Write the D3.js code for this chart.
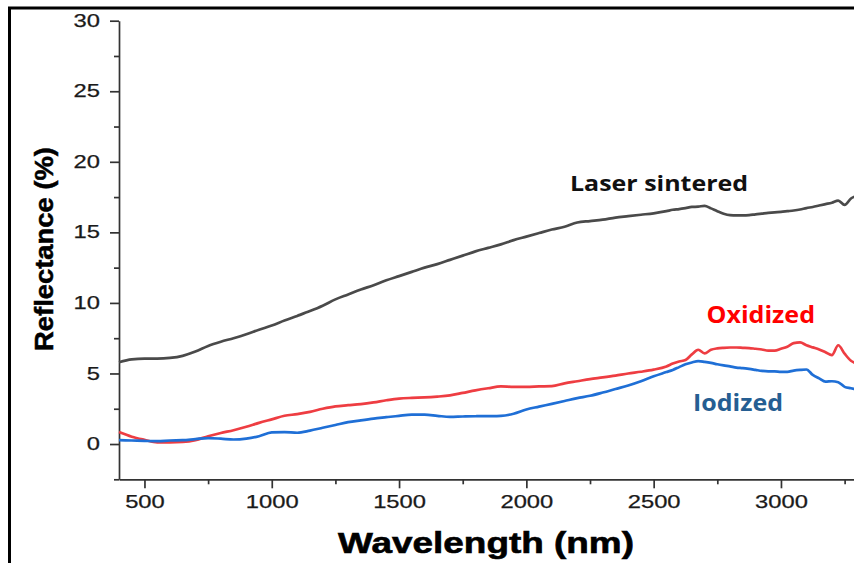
<!DOCTYPE html>
<html>
<head>
<meta charset="utf-8">
<script src="https://cdn.jsdelivr.net/npm/d3@7"></script>
<style>
  html, body { margin: 0; padding: 0; background: #fff; }
  svg { display: block; }
</style>
</head>
<body>
<svg id="chart" width="854" height="563"></svg>
<script>
// Wavelength grid (nm) shared by the three spectra
const wavelengths = [
  400, 450, 500, 550, 600, 650, 700, 750, 800, 850, 900, 950, 1000, 1050, 1100, 1150,
  1200, 1250, 1300, 1350, 1400, 1450, 1500, 1550, 1600, 1650, 1700, 1750, 1800, 1850,
  1900, 1950, 2000, 2050, 2100, 2150, 2200, 2250, 2300, 2350, 2400, 2450, 2500, 2550,
  2575, 2600, 2625, 2650, 2675, 2700, 2725, 2750, 2775, 2800, 2825, 2850, 2875, 2900,
  2925, 2950, 2975, 3000, 3025, 3050, 3075, 3100, 3125, 3150, 3175, 3200, 3225, 3250,
  3275, 3300
];

// Reflectance (%) of the laser sintered surface
const laserSintered = [
  5.8, 6.0, 6.05, 6.05, 6.1, 6.25, 6.55, 6.95, 7.25, 7.5, 7.78, 8.1, 8.4, 8.75, 9.08, 9.42,
  9.8, 10.25, 10.6, 10.95, 11.25, 11.6, 11.9, 12.2, 12.5, 12.75, 13.05, 13.35, 13.65, 13.9,
  14.15, 14.45, 14.7, 14.95, 15.2, 15.4, 15.7, 15.8, 15.9, 16.05, 16.15, 16.25, 16.35, 16.5,
  16.6, 16.65, 16.72, 16.8, 16.82, 16.88, 16.7, 16.5, 16.32, 16.22, 16.2, 16.2, 16.22, 16.28,
  16.33, 16.38, 16.42, 16.45, 16.5, 16.55, 16.62, 16.72, 16.8, 16.9, 17.0, 17.1, 17.25, 16.95,
  17.4, 17.6
];

// Reflectance (%) after oxidation
const oxidized = [
  0.85, 0.52, 0.3, 0.12, 0.12, 0.15, 0.28, 0.55, 0.78, 0.98, 1.22, 1.5, 1.75, 2.0, 2.12, 2.28,
  2.5, 2.67, 2.75, 2.83, 2.95, 3.1, 3.22, 3.27, 3.3, 3.36, 3.45, 3.62, 3.8, 3.95,
  4.08, 4.05, 4.05, 4.08, 4.1, 4.3, 4.45, 4.6, 4.72, 4.85, 5.0, 5.12, 5.27, 5.5,
  5.7, 5.85, 5.95, 6.35, 6.68, 6.42, 6.68, 6.78, 6.82, 6.84, 6.84, 6.82, 6.8, 6.75,
  6.7, 6.62, 6.62, 6.75, 6.9, 7.15, 7.2, 7.0, 6.85, 6.7, 6.5, 6.3, 7.0, 6.4,
  5.9, 5.7
];

// Reflectance (%) after iodization
const iodized = [
  0.28, 0.25, 0.22, 0.2, 0.25, 0.27, 0.35, 0.42, 0.38, 0.32, 0.38, 0.55, 0.82, 0.85, 0.8, 0.95,
  1.15, 1.35, 1.55, 1.68, 1.8, 1.9, 2.0, 2.08, 2.08, 2.0, 1.92, 1.95, 1.97, 1.98,
  2.0, 2.15, 2.45, 2.65, 2.85, 3.05, 3.25, 3.42, 3.65, 3.9, 4.15, 4.45, 4.8, 5.1,
  5.25, 5.45, 5.65, 5.78, 5.87, 5.82, 5.75, 5.65, 5.57, 5.5, 5.42, 5.38, 5.32, 5.25,
  5.18, 5.15, 5.15, 5.12, 5.12, 5.2, 5.25, 5.28, 4.9, 4.65, 4.42, 4.45, 4.38, 4.05,
  3.95, 3.85
];

const xMajorTicks = [500, 1000, 1500, 2000, 2500, 3000];
const xMinorTicks = [750, 1250, 1750, 2250, 2750, 3250];
const yMajorTicks = [0, 5, 10, 15, 20, 25, 30];
const yMinorTicks = [-2.5, 2.5, 7.5, 12.5, 17.5, 22.5, 27.5];

const seriesNames = ["Laser sintered", "Oxidized", "Iodized"];
const seriesValues = [laserSintered, oxidized, iodized];
const lineColors = ["#4a4a4a", "#ee3d42", "#1f6fd6"];
const labelColors = ["#111111", "#ff0000", "#255e92"];

const svg = d3.select("#chart");

const x = d3.scaleLinear().domain([400, 3290]).range([119, 854.8]);
const y = d3.scaleLinear().domain([-2.5, 30]).range([479.3, 20.7]);

// outer frame (left and top edges)
svg.append("path")
  .attr("d", "M9.5,563 L9.5,8 L854,8")
  .attr("fill", "none")
  .attr("stroke", "#000")
  .attr("stroke-width", 3);

const axisColor = "#333";
const tickFont = "'Liberation Sans', Arial, sans-serif";

// x axis
const gx = svg.append("g").attr("transform", `translate(0,${y(-2.5)})`);
gx.call(d3.axisBottom(x).tickValues(xMajorTicks).tickSize(9).tickSizeOuter(0).tickPadding(6)
  .tickFormat(d3.format("d")));
gx.append("g").call(d3.axisBottom(x).tickValues(xMinorTicks).tickSize(5).tickFormat(""))
  .select(".domain").remove();

// y axis
const gy = svg.append("g").attr("transform", `translate(${x(400)},0)`);
gy.call(d3.axisLeft(y).tickValues(yMajorTicks).tickSize(9).tickSizeOuter(0).tickPadding(10)
  .tickFormat(d3.format("d")));
gy.append("g").call(d3.axisLeft(y).tickValues(yMinorTicks).tickSize(5).tickFormat(""))
  .select(".domain").remove();

svg.selectAll(".domain").attr("stroke", axisColor).attr("stroke-width", 1.7);
svg.selectAll(".tick line").attr("stroke", axisColor).attr("stroke-width", 1.7);
svg.selectAll(".tick text")
  .attr("font-family", tickFont)
  .attr("font-size", 17.5)
  .attr("fill", "#1a1a1a")
  .attr("stroke", "#1a1a1a")
  .attr("stroke-width", 0.25)
  .each(function () {
    const t = d3.select(this);
    t.attr("textLength", t.text().length * 13.2).attr("lengthAdjust", "spacingAndGlyphs");
  });
gx.selectAll(".tick text").attr("dy", "0.76em");

// spectra
const line = d3.line()
  .x((d, i) => x(wavelengths[i]))
  .y(d => y(d))
  .curve(d3.curveMonotoneX);

seriesValues.forEach((vals, k) => {
  svg.append("path")
    .datum(vals)
    .attr("fill", "none")
    .attr("stroke", lineColors[k])
    .attr("stroke-width", 2.7)
    .attr("stroke-linejoin", "round")
    .attr("d", line);
});

// series labels
const labelSpecs = [
  { x: 570, y: 190.5, size: 22, len: 178 },
  { x: 706.5, y: 323.3, size: 23, len: 108.5 },
  { x: 693, y: 410.7, size: 22.5, len: 90 }
];
labelSpecs.forEach((s, k) => {
  svg.append("text")
    .attr("x", s.x).attr("y", s.y)
    .attr("font-family", "'Open Sans', 'Noto Sans', sans-serif")
    .attr("font-weight", 700)
    .attr("font-size", s.size)
    .attr("fill", labelColors[k])
    .attr("textLength", s.len)
    .attr("lengthAdjust", "spacingAndGlyphs")
    .text(seriesNames[k]);
});

// axis titles
svg.append("text")
  .attr("x", 338).attr("y", 553)
  .attr("font-family", "'Liberation Sans', Arial, sans-serif")
  .attr("font-weight", 700)
  .attr("font-size", 29)
  .attr("fill", "#000")
  .attr("stroke", "#000")
  .attr("stroke-width", 0.6)
  .attr("textLength", 296)
  .attr("lengthAdjust", "spacingAndGlyphs")
  .text("Wavelength (nm)");

svg.append("text")
  .attr("transform", "translate(52.5,351) rotate(-90)")
  .attr("x", 0).attr("y", 0)
  .attr("font-family", "'Liberation Sans', Arial, sans-serif")
  .attr("font-weight", 700)
  .attr("font-size", 25.5)
  .attr("fill", "#000")
  .attr("stroke", "#000")
  .attr("stroke-width", 0.5)
  .attr("textLength", 204)
  .attr("lengthAdjust", "spacingAndGlyphs")
  .text("Reflectance (%)");
</script>
</body>
</html>
